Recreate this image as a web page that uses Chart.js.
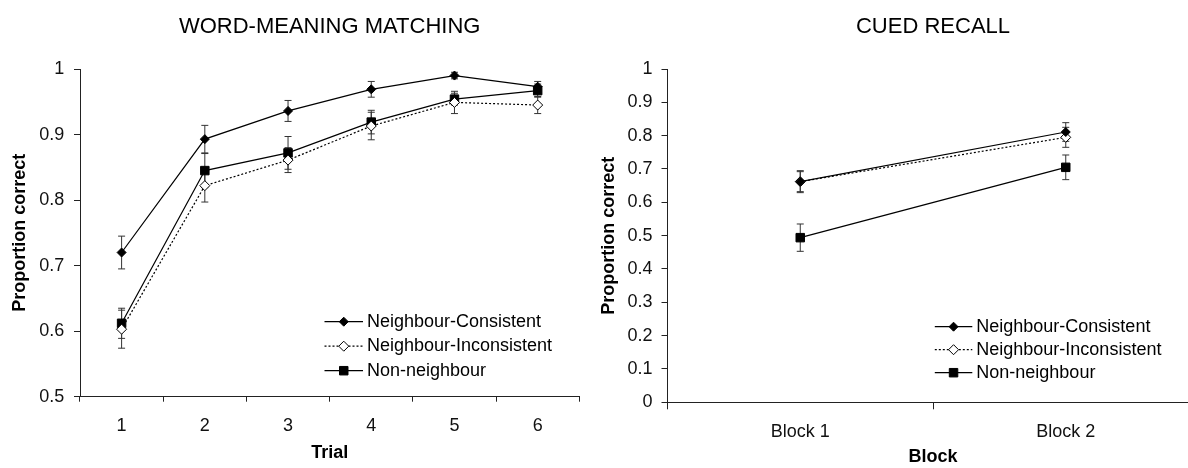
<!DOCTYPE html>
<html lang="en">
<head>
    <meta charset="UTF-8">
    <title>Word-meaning matching and cued recall</title>
    <style>
        html, body {
            margin: 0;
            padding: 0;
            width: 1188px;
            height: 468px;
            overflow: hidden;
            background: #fff;
        }
        #matching { position: absolute; left: 0; top: 0; }
        #recall { position: absolute; left: 596px; top: 0; }
    </style>
</head>
<body>
    <canvas id="matching" width="600" height="468"></canvas>
    <canvas id="recall" width="620" height="468"></canvas>

    <script src="https://cdn.jsdelivr.net/npm/chart.js@4"></script>
    <script>
        const seriesNames = ['Neighbour-Consistent', 'Neighbour-Inconsistent', 'Non-neighbour'];

        // word-meaning matching, by trial
        const trialLabels = ['1', '2', '3', '4', '5', '6'];
        const matchConsistent = [0.720, 0.893, 0.936, 0.969, 0.990, 0.973];
        const matchConsistentErr = [0.025, 0.021, 0.016, 0.012, 0.005, 0.008];
        const matchInconsistent = [0.603, 0.822, 0.861, 0.913, 0.949, 0.945];
        const matchInconsistentErr = [0.029, 0.025, 0.019, 0.021, 0.017, 0.013];
        const matchNonNeighbour = [0.612, 0.845, 0.872, 0.919, 0.954, 0.967];
        const matchNonNeighbourErr = [0.023, 0.026, 0.025, 0.018, 0.009, 0.010];

        // cued recall, by block
        const blockLabels = ['Block 1', 'Block 2'];
        const recallConsistent = [0.662, 0.811];
        const recallConsistentErr = [0.030, 0.028];
        const recallInconsistent = [0.662, 0.795];
        const recallInconsistentErr = [0.033, 0.030];
        const recallNonNeighbour = [0.494, 0.705];
        const recallNonNeighbourErr = [0.041, 0.037];

        const family = "'Liberation Sans', Arial, Helvetica, sans-serif";
        Chart.defaults.font.family = family;
        Chart.defaults.color = '#000';

        const axisColor = '#222';

        // error bars, drawn under the lines and markers
        const errorBars = {
            id: 'errorBars',
            beforeDatasetsDraw(chart) {
                const ctx = chart.ctx;
                const yScale = chart.scales.y;
                ctx.save();
                ctx.strokeStyle = '#333';
                ctx.lineWidth = 1;
                chart.data.datasets.forEach((ds, i) => {
                    const meta = chart.getDatasetMeta(i);
                    meta.data.forEach((pt, j) => {
                        const v = ds.data[j], e = ds.errors[j];
                        const top = yScale.getPixelForValue(v + e);
                        const bot = yScale.getPixelForValue(v - e);
                        ctx.beginPath();
                        ctx.moveTo(pt.x, top); ctx.lineTo(pt.x, bot);
                        ctx.moveTo(pt.x - 3.5, top); ctx.lineTo(pt.x + 3.5, top);
                        ctx.moveTo(pt.x - 3.5, bot); ctx.lineTo(pt.x + 3.5, bot);
                        ctx.stroke();
                    });
                });
                ctx.restore();
            }
        };

        // legend sitting inside the plot, line sample with the marker in the middle
        const insideLegend = {
            id: 'insideLegend',
            afterDraw(chart, args, opts) {
                const ctx = chart.ctx;
                ctx.save();
                chart.data.datasets.forEach((ds, i) => {
                    const y = opts.y + i * opts.gap;
                    ctx.strokeStyle = ds.borderColor;
                    ctx.lineWidth = ds.borderWidth;
                    ctx.setLineDash(ds.borderDash || []);
                    ctx.beginPath();
                    ctx.moveTo(opts.x, y);
                    ctx.lineTo(opts.x + opts.len, y);
                    ctx.stroke();
                    ctx.setLineDash([]);

                    ctx.fillStyle = ds.pointBackgroundColor;
                    ctx.strokeStyle = ds.pointBorderColor;
                    ctx.lineWidth = 1;
                    Chart.helpers.drawPoint(ctx, {
                        pointStyle: ds.pointStyle,
                        radius: ds.pointRadius,
                        rotation: 0,
                        borderWidth: 1
                    }, opts.x + opts.len / 2, y);

                    ctx.fillStyle = '#000';
                    ctx.font = '18px ' + family;
                    ctx.textAlign = 'left';
                    ctx.textBaseline = 'middle';
                    ctx.fillText(ds.label, opts.x + opts.len + 4, y);
                });
                ctx.restore();
            }
        };

        function makeDatasets(values, errors) {
            const styles = [
                { pointStyle: 'rectRot', pointRadius: 4.5, pointBackgroundColor: '#000', borderDash: [] },
                { pointStyle: 'rectRot', pointRadius: 5, pointBackgroundColor: '#fff', borderDash: [2, 2] },
                { pointStyle: 'rect', pointRadius: 6, pointBackgroundColor: '#000', borderDash: [] }
            ];
            return values.map((vals, i) => ({
                label: seriesNames[i],
                data: vals,
                errors: errors[i],
                borderColor: '#000',
                borderWidth: 1.2,
                borderDash: styles[i].borderDash,
                pointStyle: styles[i].pointStyle,
                pointRadius: styles[i].pointRadius,
                pointHoverRadius: styles[i].pointRadius,
                pointBackgroundColor: styles[i].pointBackgroundColor,
                pointBorderColor: '#000',
                pointBorderWidth: 1,
                tension: 0,
                fill: false,
                clip: false
            }));
        }

        function makeOptions(c) {
            return {
                responsive: false,
                animation: false,
                layout: { padding: { left: 0, right: c.padRight, top: 0, bottom: 0 } },
                plugins: {
                    legend: { display: false },
                    tooltip: { enabled: false },
                    title: {
                        display: true,
                        text: c.title,
                        fullSize: false,
                        color: '#000',
                        font: { size: 22, weight: 'normal' },
                        padding: { top: 13.3, bottom: 29.3 }
                    },
                    insideLegend: c.legend
                },
                scales: {
                    x: {
                        type: 'category',
                        offset: true,
                        grid: {
                            offset: true,
                            drawOnChartArea: false,
                            drawTicks: true,
                            tickLength: c.xTickLen,
                            color: axisColor
                        },
                        border: { display: true, color: axisColor, width: 1 },
                        ticks: {
                            autoSkip: false,
                            maxRotation: 0,
                            padding: c.xTickPad,
                            color: '#111',
                            font: { size: 18 }
                        },
                        title: {
                            display: true,
                            text: c.xTitle,
                            color: '#000',
                            font: { size: 18, weight: 'bold' },
                            padding: { top: 0, bottom: c.xTitlePad }
                        },
                        afterFit(scale) { scale.height = c.xHeight; }
                    },
                    y: {
                        min: c.yMin,
                        max: 1,
                        grid: {
                            drawOnChartArea: false,
                            drawTicks: true,
                            tickLength: 6,
                            color: axisColor
                        },
                        border: { display: true, color: axisColor, width: 1 },
                        ticks: {
                            stepSize: 0.1,
                            padding: c.yTickPad,
                            color: '#111',
                            font: { size: 18 },
                            callback: v => Number(v.toFixed(1)).toString()
                        },
                        title: {
                            display: true,
                            text: 'Proportion correct',
                            color: '#000',
                            font: { size: 18, weight: 'bold' },
                            padding: { top: c.yTitlePad, bottom: 0 }
                        },
                        afterFit(scale) { scale.width = c.yWidth; }
                    }
                }
            };
        }

        new Chart(document.getElementById('matching'), {
            type: 'line',
            data: {
                labels: trialLabels,
                datasets: makeDatasets(
                    [matchConsistent, matchInconsistent, matchNonNeighbour],
                    [matchConsistentErr, matchInconsistentErr, matchNonNeighbourErr]
                )
            },
            options: makeOptions({
                title: 'WORD-MEANING MATCHING',
                xTitle: 'Trial',
                yMin: 0.5,
                yWidth: 80,
                xHeight: 71.3,
                padRight: 20.7,
                xTickLen: 5,
                xTickPad: 13.5,
                yTickPad: 9.7,
                xTitlePad: 3.9,
                yTitlePad: 8.9,
                legend: { x: 324.5, y: 321.7, gap: 24.5, len: 38.5 }
            }),
            plugins: [errorBars, insideLegend]
        });

        new Chart(document.getElementById('recall'), {
            type: 'line',
            data: {
                labels: blockLabels,
                datasets: makeDatasets(
                    [recallConsistent, recallInconsistent, recallNonNeighbour],
                    [recallConsistentErr, recallInconsistentErr, recallNonNeighbourErr]
                )
            },
            options: makeOptions({
                title: 'CUED RECALL',
                xTitle: 'Block',
                yMin: 0,
                yWidth: 71.5,
                xHeight: 65.7,
                padRight: 17.5,
                xTickLen: 7,
                xTickPad: 11.6,
                yTickPad: 9,
                xTitlePad: 0,
                yTitlePad: 2.6,
                legend: { x: 338.8, y: 326.7, gap: 23, len: 37.5 }
            }),
            plugins: [errorBars, insideLegend]
        });
    </script>
</body>
</html>
